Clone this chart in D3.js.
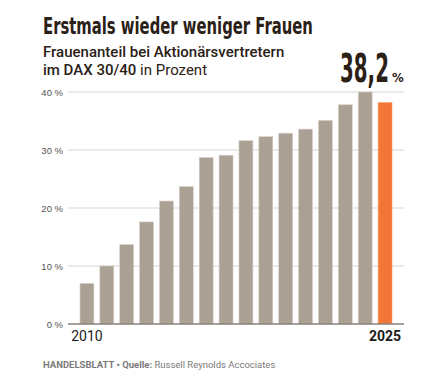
<!DOCTYPE html>
<html>
<head>
<meta charset="utf-8">
<script src="https://cdn.jsdelivr.net/npm/d3@7"></script>
<style>
	body { margin: 0; background: #fff; }
	svg { display: block; }
</style>
</head>
<body>
<div id="chart"></div>
<script>
const years = d3.range(2010, 2026).map(String);
const shares = [7.0, 10.0, 13.7, 17.6, 21.2, 23.7, 28.7, 29.1, 31.6, 32.3, 32.9, 33.6, 35.1, 37.8, 40.0, 38.2];
const yTicks = [0, 10, 20, 30, 40];
const xLabels = ["2010", "2025"];

const width = 433;
const height = 391;
const brown = "#2b2016";

const svg = d3.select("#chart")
	.append("svg")
	.attr("width", width)
	.attr("height", height);

// squeeze a text horizontally to a given width (condensed look)
function squeeze(sel, x0, y0, w) {
	const natural = sel.node().getComputedTextLength();
	sel.attr("transform", `translate(${x0},${y0}) scale(${w / natural},1)`);
}

// titles
const title = svg.append("text")
	.attr("font-family", "Liberation Sans Narrow, DejaVu Sans Condensed, sans-serif")
	.attr("font-weight", "bold")
	.attr("font-size", 23)
	.attr("fill", brown)
	.text("Erstmals wieder weniger Frauen");
squeeze(title, 43, 34, 270);

svg.append("text")
	.attr("x", 43)
	.attr("y", 57)
	.attr("font-family", "Roboto, sans-serif")
	.attr("font-weight", 500)
	.attr("font-size", 15)
	.attr("fill", brown)
	.text("Frauenanteil bei Aktionärsvertretern");

const sub2 = svg.append("text")
	.attr("x", 43)
	.attr("y", 75)
	.attr("font-family", "Roboto, sans-serif")
	.attr("font-size", 15)
	.attr("fill", brown);
sub2.append("tspan").attr("font-weight", 500).text("im DAX 30/40");
sub2.append("tspan").text(" in Prozent");

// scales
const x = d3.scaleBand()
	.domain(years)
	.range([77, 395])
	.paddingInner(0.3)
	.paddingOuter(0.15);

const y = d3.scaleLinear()
	.domain([0, 40])
	.range([324, 92]);

// grid
svg.append("g")
	.selectAll("line")
	.data(yTicks.filter(d => d > 0))
	.enter().append("line")
	.attr("x1", 68)
	.attr("x2", 404)
	.attr("y1", d => y(d))
	.attr("y2", d => y(d))
	.attr("stroke", "#e6e3e0")
	.attr("stroke-width", 1.5);

svg.append("g")
	.selectAll("text")
	.data(yTicks)
	.enter().append("text")
	.attr("x", 63)
	.attr("y", d => y(d) + 3.5)
	.attr("text-anchor", "end")
	.attr("font-family", "Liberation Sans, Arial, sans-serif")
	.attr("font-size", 9.5)
	.attr("fill", "#555")
	.text(d => d + " %");

// bars
svg.append("g")
	.selectAll("rect")
	.data(years)
	.enter().append("rect")
	.attr("x", d => x(d))
	.attr("y", (d, i) => y(shares[i]))
	.attr("width", x.bandwidth())
	.attr("height", (d, i) => y(0) - y(shares[i]))
	.attr("fill", (d, i) => i === years.length - 1 ? "#f47637" : "#aaa094")
	.attr("stroke", (d, i) => i === years.length - 1 ? "#f9a77c" : "#d6d0ca")
	.attr("stroke-width", 0.6);

// baseline
svg.append("line")
	.attr("x1", 68)
	.attr("x2", 404)
	.attr("y1", y(0))
	.attr("y2", y(0))
	.attr("stroke", "#8a8178")
	.attr("stroke-width", 1.5);

// x labels
svg.append("g")
	.selectAll("text")
	.data(xLabels)
	.enter().append("text")
	.attr("x", d => x(d) + x.bandwidth() / 2)
	.attr("y", 341)
	.attr("text-anchor", "middle")
	.attr("font-family", "Roboto, sans-serif")
	.attr("font-size", 14)
	.attr("font-weight", (d, i) => i === 1 ? "bold" : "normal")
	.attr("fill", "#1a1a1a")
	.text(d => d);

// highlight value
const big = svg.append("text")
	.attr("font-family", "Liberation Sans Narrow, DejaVu Sans Condensed, sans-serif")
	.attr("font-weight", "bold")
	.attr("font-size", 39)
	.attr("fill", brown)
	.text(String(shares[shares.length - 1]).replace(".", ","));
squeeze(big, 340, 82, 49);
svg.append("text")
	.attr("x", 392)
	.attr("y", 82)
	.attr("font-family", "Liberation Sans Narrow, DejaVu Sans Condensed, sans-serif")
	.attr("font-weight", "bold")
	.attr("font-size", 13)
	.attr("fill", brown)
	.text("%");

// footer
const foot = svg.append("text")
	.attr("x", 43)
	.attr("y", 368)
	.attr("font-family", "Roboto, sans-serif")
	.attr("font-size", 9.5)
	.attr("fill", "#7a7a7a");
foot.append("tspan").attr("font-weight", "bold").text("HANDELSBLATT • Quelle:");
foot.append("tspan").text(" Russell Reynolds Accociates");
</script>
</body>
</html>
